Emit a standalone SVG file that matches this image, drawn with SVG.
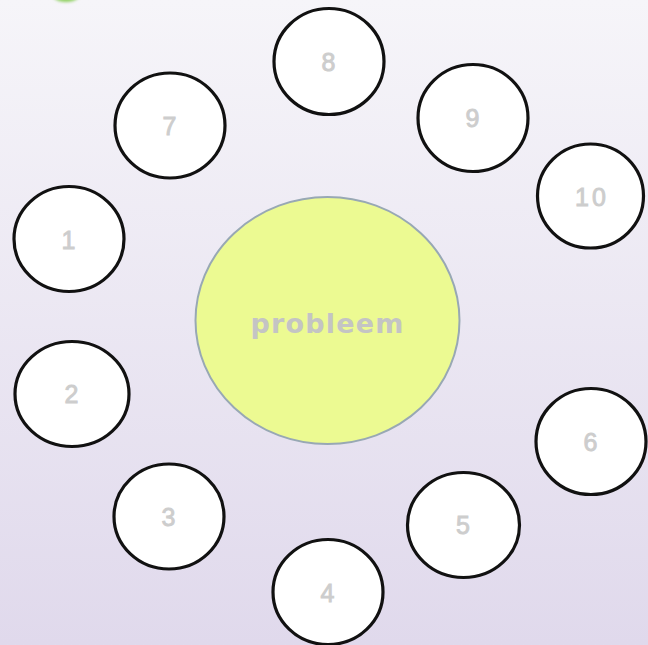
<svg xmlns="http://www.w3.org/2000/svg" width="648" height="645" viewBox="0 0 648 645">
<defs>
<linearGradient id="bg" x1="0" y1="0" x2="0" y2="1">
<stop offset="0" stop-color="#f6f5f9"/>
<stop offset="1" stop-color="#e0d9ec"/>
</linearGradient>
<filter id="blur" x="-50%" y="-50%" width="200%" height="200%"><feGaussianBlur stdDeviation="1.5"/></filter>
<style>
.n ellipse{fill:#ffffff;stroke:#111111;stroke-width:3.2}
.n text{font-family:"Liberation Sans",Arial,sans-serif;font-size:25px;fill:#cdcdcd;stroke:#cdcdcd;stroke-width:0.9;text-anchor:middle;dominant-baseline:central;letter-spacing:3px}
.c ellipse{fill:#ecfa92;stroke:#98a8b4;stroke-width:2}
.c text{font-family:"DejaVu Sans","Liberation Sans",sans-serif;font-size:27px;font-weight:bold;fill:#c4c4c4;text-anchor:middle;dominant-baseline:central;letter-spacing:1.2px}
</style>
</defs>
<rect width="648" height="645" fill="url(#bg)"/>
<ellipse cx="66" cy="-9" rx="16" ry="11" fill="#8fd060" filter="url(#blur)"/>
<g id="connectors"></g>
<g id="center" class="c"><ellipse cx="327.5" cy="320.5" rx="132" ry="123.5"/><text x="327.5" y="323">probleem</text></g>
<g id="n1" class="n"><ellipse cx="69" cy="239" rx="55" ry="52.5"/><text x="70" y="240">1</text></g>
<g id="n2" class="n"><ellipse cx="72" cy="394" rx="57" ry="52.5"/><text x="73" y="394">2</text></g>
<g id="n3" class="n"><ellipse cx="169" cy="516.5" rx="55" ry="52.5"/><text x="170" y="517">3</text></g>
<g id="n4" class="n"><ellipse cx="328" cy="592" rx="55" ry="52.5"/><text x="329" y="593">4</text></g>
<g id="n5" class="n"><ellipse cx="463.5" cy="525" rx="56" ry="52.5"/><text x="464.5" y="525">5</text></g>
<g id="n6" class="n"><ellipse cx="591" cy="441.5" rx="55" ry="53"/><text x="592" y="442">6</text></g>
<g id="n7" class="n"><ellipse cx="170" cy="125.5" rx="55" ry="52.5"/><text x="171" y="126">7</text></g>
<g id="n8" class="n"><ellipse cx="329" cy="61.5" rx="55" ry="53"/><text x="330" y="62">8</text></g>
<g id="n9" class="n"><ellipse cx="473" cy="118" rx="55" ry="53.5"/><text x="474" y="118">9</text></g>
<g id="n10" class="n"><ellipse cx="590.5" cy="196" rx="53" ry="52"/><text x="592" y="197">10</text></g>
</svg>
